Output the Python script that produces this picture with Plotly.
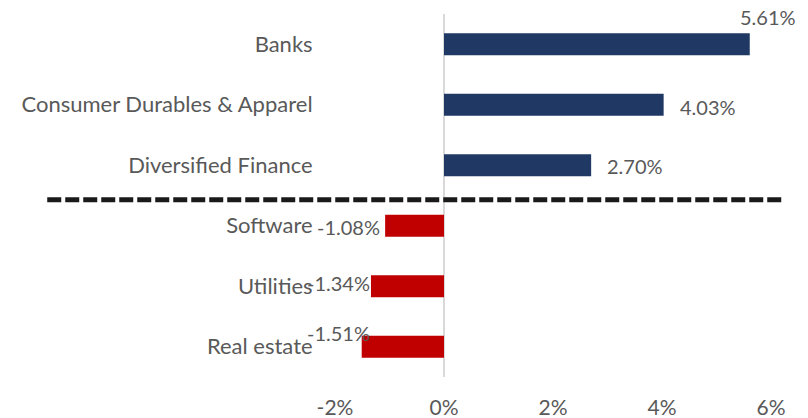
import plotly.graph_objects as go

categories = ["Banks", "Consumer Durables & Apparel", "Diversified Finance",
              "Software", "Utilities", "Real estate"]
values = [5.61, 4.03, 2.70, -1.08, -1.34, -1.51]
tick_vals = [-2, 0, 2, 4, 6]
tick_text = ["-2%", "0%", "2%", "4%", "6%"]

POS = "#203864"
NEG = "#c00000"
TXT = "#595959"
FONT = "Lato"
FS_CAT = 22
FS_LAB = 20
FS_TICK = 21

colors = [POS if v >= 0 else NEG for v in values]

fig = go.Figure()
fig.add_trace(go.Bar(
    x=values, y=categories, orientation="h",
    marker=dict(color=colors, line=dict(width=0)),
    width=0.36, hoverinfo="skip",
))

# label placement tweaks (pixel offsets)
offsets = [
    dict(xanchor="left", xshift=-12, yshift=27),
    dict(xanchor="left", xshift=14, yshift=-2),
    dict(xanchor="left", xshift=14, yshift=-1),
    dict(xanchor="right", xshift=-3, yshift=-1),
    dict(xanchor="right", xshift=1, yshift=3),
    dict(xanchor="right", xshift=10, yshift=14),
]
for c, v, o in zip(categories, values, offsets):
    fig.add_annotation(x=v, y=c, text=f"{v:.2f}%", showarrow=False,
                       font=dict(family=FONT, size=FS_LAB, color=TXT),
                       yanchor="middle", **o)

# zero line
fig.add_shape(type="line", xref="x", yref="paper", x0=0, x1=0, y0=0, y1=1,
              line=dict(color="#d9d9d9", width=2), layer="below")
# dashed separator between gainers and losers
fig.add_shape(type="line", xref="paper", yref="y", x0=-0.66, x1=1.032, y0=2.57, y1=2.57,
              line=dict(color="#1a1a1a", width=5, dash="14px,4px"))

fig.update_layout(
    width=800, height=410,
    margin=dict(l=327, r=37, t=6, b=41),
    plot_bgcolor="white", paper_bgcolor="white",
    showlegend=False,
    font=dict(family=FONT, size=FS_CAT, color=TXT),
    xaxis=dict(range=[-2, 6], tickvals=tick_vals, ticktext=tick_text,
               showgrid=False, zeroline=False, showline=False, automargin=False,
               ticks="outside", ticklen=12, tickcolor="rgba(0,0,0,0)",
               tickfont=dict(family=FONT, size=FS_TICK, color=TXT), fixedrange=True),
    yaxis=dict(autorange="reversed", showgrid=False, zeroline=False, showline=False,
               automargin=False,
               ticks="outside", ticklen=17, tickcolor="rgba(0,0,0,0)",
               tickfont=dict(family=FONT, size=FS_CAT, color=TXT), fixedrange=True),
)

fig.write_html("out.html")
